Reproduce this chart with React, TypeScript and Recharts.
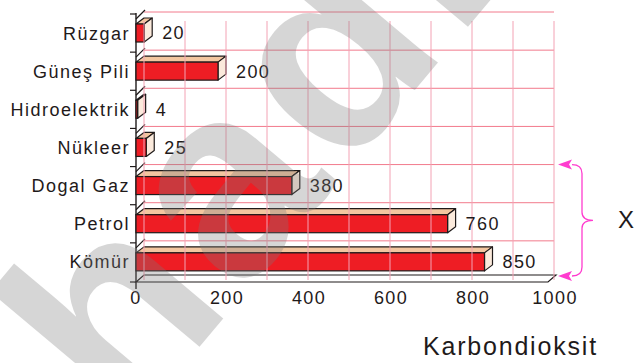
import React from 'react';
import { BarChart, Bar, XAxis, YAxis, ReferenceLine, ReferenceArea, LabelList } from 'recharts';

const categories = ['Rüzgar', 'Güneş Pili', 'Hidroelektrik', 'Nükleer', 'Dogal Gaz', 'Petrol', 'Kömür'];
const co2Values = [20, 200, 4, 25, 380, 760, 850];
const xTicks = [0, 200, 400, 600, 800, 1000];
const gridValues = [0, 100, 200, 300, 400, 500, 600, 700, 800, 900, 1000];
const axisTitle = 'Karbondioksit';
const braceLabel = 'X';
const watermarkText = 'hadi';

const data = categories.map((name, i) => ({ name, value: co2Values[i] }));

const FONT = '"Liberation Sans", Arial, Helvetica, sans-serif';
const DX = 8;
const DY = 6;
const INK = '#1f1a1a';
const RED = '#ee1d24';
const TOP = '#f3c6a0';
const SIDE = '#fbeadc';
const GRID_H = '#f27a8c';
const GRID_V = '#f3a2b4';
const MAGENTA = '#ff3ccf';

function Bar3D(props: any) {
  const { x, y, width, height } = props;
  if (x == null || y == null) return null;
  const w = Math.max(width, 1.5);
  const top = `${x},${y} ${x + DX},${y - DY} ${x + w + DX},${y - DY} ${x + w},${y}`;
  const side = `${x + w},${y} ${x + w + DX},${y - DY} ${x + w + DX},${y + height - DY} ${x + w},${y + height}`;
  return (
    <g>
      <polygon points={top} fill={TOP} stroke={INK} strokeWidth={1.2} strokeLinejoin="round" />
      <polygon points={side} fill={SIDE} stroke={INK} strokeWidth={1.2} strokeLinejoin="round" />
      <rect x={x} y={y} width={w} height={height} fill={RED} stroke={INK} strokeWidth={1.2} />
    </g>
  );
}

function Decor(props: any) {
  const { x, y, width, height } = props;
  if (x == null) return null;
  const n = categories.length;
  const band = height / n;
  const els: any[] = [];
  for (let i = 0; i < n; i++) {
    const b = y + i * band;
    els.push(
      <line key={'h' + i} x1={x + DX} y1={b - 2} x2={x + width + DX} y2={b - 2} stroke={GRID_H} strokeWidth={1} />
    );
    els.push(<line key={'t' + i} x1={x - 6} y1={b} x2={x} y2={b} stroke={INK} strokeWidth={1.2} />);
    els.push(<line key={'d' + i} x1={x} y1={b + 5} x2={x + DX + 1} y2={b - 4} stroke={INK} strokeWidth={1.2} />);
  }
  const fb = y + height;
  els.push(<line key="tb" x1={x - 6} y1={fb + 1} x2={x} y2={fb + 1} stroke={INK} strokeWidth={1.2} />);
  els.push(
    <polygon
      key="floor"
      points={`${x},${fb + 1} ${x + DX},${fb - 6} ${x + width + DX + 2},${fb - 6} ${x + width + 2},${fb + 1}`}
      fill="#ffffff"
      stroke={INK}
      strokeWidth={1.2}
    />
  );
  els.push(<line key="ax" x1={x} y1={y - 1} x2={x} y2={fb + 8} stroke={INK} strokeWidth={1.4} />);
  // brace annotation covering the fossil rows
  const t = y + 4 * band - 2;
  const bt = fb - 5;
  const bx = x + width + DX + 28;
  const mid = (t + bt) / 2;
  els.push(
    <path
      key="brace"
      d={`M${bx - 10},${t} Q${bx},${t} ${bx},${t + 9} L${bx},${mid - 8} Q${bx},${mid} ${bx + 11},${mid} Q${bx},${mid} ${bx},${mid + 8} L${bx},${bt - 9} Q${bx},${bt} ${bx - 10},${bt}`}
      fill="none"
      stroke={MAGENTA}
      strokeWidth={1.3}
    />
  );
  const ax = x + width + DX + 4;
  els.push(
    <polygon key="a1" points={`${ax},${t} ${ax + 14},${t - 5} ${ax + 11},${t} ${ax + 14},${t + 5}`} fill={MAGENTA} />
  );
  els.push(
    <polygon key="a2" points={`${ax},${bt} ${ax + 14},${bt - 5} ${ax + 11},${bt} ${ax + 14},${bt + 5}`} fill={MAGENTA} />
  );
  return <g>{els}</g>;
}

function VGrid(props: any) {
  const { x1, y1, x2, y2 } = props;
  return <line x1={x1 + DX} y1={y1 - 1} x2={x2 + DX} y2={y2 + 7} stroke={GRID_V} strokeWidth={1} />;
}

function XTick(props: any) {
  const { x, y, payload } = props;
  const shift = payload.value === 0 ? 0 : 9;
  return (
    <text
      x={x + shift}
      y={y}
      dy={15}
      textAnchor="middle"
      fontFamily={FONT}
      fontSize={18}
      letterSpacing={1.4}
      fill={INK}
    >
      {payload.value}
    </text>
  );
}

function YTick(props: any) {
  const { x, y, payload } = props;
  return (
    <text x={x} y={y} dy="0.36em" textAnchor="end" fontFamily={FONT} fontSize={18} letterSpacing={1.5} fill={INK}>
      {payload.value}
    </text>
  );
}

function ValueLabel(props: any) {
  const { x, y, width, height, value } = props;
  return (
    <text
      x={x + width + 18}
      y={y + height / 2}
      dy="0.36em"
      textAnchor="start"
      fontFamily={FONT}
      fontSize={18}
      letterSpacing={1.4}
      fill={INK}
    >
      {value}
    </text>
  );
}

export default function App() {
  return (
    <div style={{ position: 'absolute', left: 0, top: 0, width: 635, height: 363, background: '#fff', overflow: 'hidden' }}>
      <BarChart
        width={635}
        height={363}
        data={data}
        layout="vertical"
        margin={{ top: 14, right: 89, bottom: 52, left: 0 }}
        barCategoryGap={0}
      >
        <XAxis
          type="number"
          domain={[0, 1000]}
          ticks={xTicks}
          axisLine={false}
          tickLine={false}
          tickSize={0}
          tickMargin={8}
          height={30}
          tick={<XTick />}
          interval={0}
        />
        <YAxis
          type="category"
          dataKey="name"
          width={136}
          axisLine={false}
          tickLine={false}
          tickSize={0}
          tickMargin={6}
          tick={<YTick />}
          interval={0}
        />
        <ReferenceArea x1={0} x2={1000} ifOverflow="visible" fill="none" shape={(p: any) => <Decor {...p} />} />
        {gridValues.map((v) => (
          <ReferenceLine key={v} x={v} ifOverflow="visible" shape={(p: any) => <VGrid {...p} />} />
        ))}
        <Bar dataKey="value" barSize={18} isAnimationActive={false} shape={(p: any) => <Bar3D {...p} />}>
          <LabelList dataKey="value" content={(p: any) => <ValueLabel {...p} />} />
        </Bar>
      </BarChart>
      <svg
        width={635}
        height={363}
        style={{ position: 'absolute', left: 0, top: 0, pointerEvents: 'none' }}
      >
        <text x={423} y={355} fontFamily={FONT} fontSize={25} letterSpacing={1.8} fill={INK}>
          {axisTitle}
        </text>
        <text x={618} y={228} fontFamily={FONT} fontSize={24} fill={INK}>
          {braceLabel}
        </text>
        <g opacity={0.3}>
          <text
            x={128}
            y={432}
            transform="rotate(-50 128 432)"
            fontFamily={FONT}
            fontWeight="bold"
            fontSize={270}
            letterSpacing={10}
            fill="#7a7a7a"
          >
            {watermarkText}
          </text>
        </g>
      </svg>
    </div>
  );
}
